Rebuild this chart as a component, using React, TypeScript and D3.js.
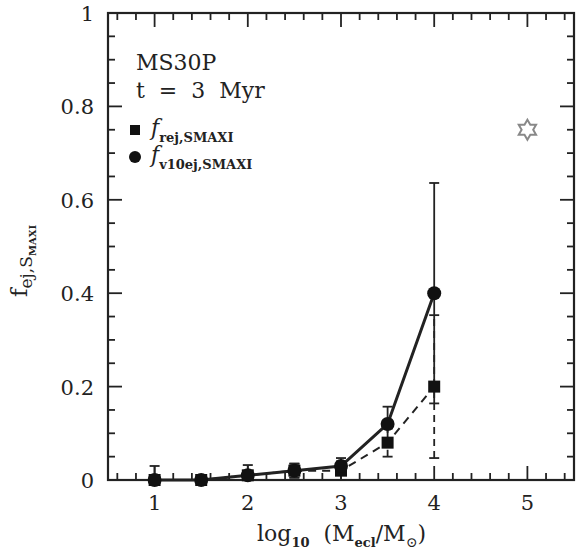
import React from "react";
import * as d3 from "d3";

const massLog = [1, 1.5, 2, 2.5, 3, 3.5, 4];
const fRej = [0, 0, 0.01, 0.02, 0.02, 0.08, 0.2];
const fRejErr = [0, 0, 0.01, 0.015, 0.02, 0.03, 0.153];
const fV10 = [0, 0, 0.01, 0.02, 0.03, 0.12, 0.4];
const fV10Err = [0.03, 0, 0.022, 0.015, 0.017, 0.037, 0.236];
const starPoint = { x: 5, y: 0.75 };
const xTickLabels = ["1", "2", "3", "4", "5"];
const yTickLabels = ["0", "0.2", "0.4", "0.6", "0.8", "1"];

const W = 576, H = 551;
const L = 108, R = 574, T = 13, B = 480;
const FONT = "'DejaVu Serif', serif";

export default function App() {
  const x = d3.scaleLinear().domain([0.5, 5.5]).range([L, R]);
  const y = d3.scaleLinear().domain([0, 1]).range([B, T]);

  const xMinor = d3.range(0.6, 5.5, 0.2).map((v) => +v.toFixed(2));
  const yMinor = d3.range(0.05, 1.0, 0.05).map((v) => +v.toFixed(2));
  const xMajor = xTickLabels.map(Number);
  const yMajor = yTickLabels.map(Number);
  const isXMajor = (v: number) => Math.abs(v - Math.round(v)) < 1e-6;
  const isYMajor = (v: number) => Math.abs(v * 5 - Math.round(v * 5)) < 1e-6;

  const line = d3
    .line<number>()
    .x((_, i) => x(massLog[i]))
    .y((d) => y(d));

  const star = () => {
    const pts: [number, number][] = [];
    const cx = x(starPoint.x), cy = y(starPoint.y);
    for (let k = 0; k < 12; k++) {
      const r = k % 2 === 0 ? 10 : 5.8;
      const a = -Math.PI / 2 + (k * Math.PI) / 6;
      pts.push([cx + r * Math.cos(a), cy + r * Math.sin(a)]);
    }
    return "M" + pts.map((p) => p.join(",")).join("L") + "Z";
  };

  const MAJ = 14, MIN = 7;

  return (
    <svg width={W} height={H} style={{ position: "absolute", left: 0, top: 0, background: "#fff" }} fontFamily={FONT}>
      {/* ticks */}
      <g stroke="#222" strokeWidth={1.8}>
        {xMinor.map((v) => {
          const len = isXMajor(v) ? MAJ : MIN;
          return (
            <g key={"xt" + v}>
              <line x1={x(v)} x2={x(v)} y1={B} y2={B - len} />
              <line x1={x(v)} x2={x(v)} y1={T} y2={T + len} />
            </g>
          );
        })}
        {yMinor.map((v) => {
          const len = isYMajor(v) ? MAJ : MIN;
          return (
            <g key={"yt" + v}>
              <line x1={L} x2={L + len} y1={y(v)} y2={y(v)} />
              <line x1={R} x2={R - len} y1={y(v)} y2={y(v)} />
            </g>
          );
        })}
      </g>
      <rect x={L} y={T} width={R - L} height={B - T} fill="none" stroke="#222" strokeWidth={2.2} />

      {/* tick labels */}
      <g fontSize={21} fill="#222">
        {xMajor.map((v, i) => (
          <text key={"xl" + v} x={x(v)} y={B + 30} textAnchor="middle">{xTickLabels[i]}</text>
        ))}
        {yMajor.map((v, i) => (
          <text key={"yl" + v} x={L - 14} y={y(v) + 8} textAnchor="end">{yTickLabels[i]}</text>
        ))}
      </g>

      {/* axis titles */}
      <text x={257} y={541} fontSize={22} fill="#222" style={{ whiteSpace: "pre" }}>
        log<tspan fontSize={13} fontWeight="bold" dy={6}>10</tspan>
        <tspan dy={-6}>{"  (M"}</tspan>
        <tspan fontSize={13} fontWeight="bold" dy={6}>ecl</tspan>
        <tspan dy={-6}>/M</tspan>
        <tspan fontSize={14} dy={6}>⊙</tspan>
        <tspan dy={-6}>)</tspan>
      </text>
      <text transform="translate(27,297) rotate(-90)" fontSize={23} fill="#222">
        f<tspan fontSize={17} dy={5}>ej,S</tspan>
        <tspan fontSize={10} fontWeight="bold" dy={4}>MAXI</tspan>
      </text>

      {/* annotation */}
      <text x={136} y={70} fontSize={22} fill="#222">MS30P</text>
      <text x={136} y={98} fontSize={22} fill="#222" style={{ whiteSpace: "pre" }}>t  =  3  Myr</text>

      {/* legend */}
      <rect x={130} y={125} width={10} height={10} fill="#111" />
      <text x={151} y={135} fontSize={22} fontStyle="italic" fill="#222">
        f<tspan fontSize={13} fontStyle="normal" fontWeight="bold" dy={7}>rej,SMAXI</tspan>
      </text>
      <circle cx={135} cy={157} r={6} fill="#111" />
      <text x={151} y={162} fontSize={22} fontStyle="italic" fill="#222">
        f<tspan fontSize={13} fontStyle="normal" fontWeight="bold" dy={7}>v10ej,SMAXI</tspan>
      </text>

      {/* error bars */}
      <g stroke="#222" strokeWidth={1.8}>
        {massLog.map((m, i) =>
          fRejErr[i] > 0 ? (
            <g key={"re" + i}>
              <line x1={x(m)} x2={x(m)} y1={y(fRej[i] - fRejErr[i])} y2={y(fRej[i] + fRejErr[i])} strokeDasharray="7,5" />
              <line x1={x(m) - 5} x2={x(m) + 5} y1={y(fRej[i] - fRejErr[i])} y2={y(fRej[i] - fRejErr[i])} />
              <line x1={x(m) - 5} x2={x(m) + 5} y1={y(fRej[i] + fRejErr[i])} y2={y(fRej[i] + fRejErr[i])} />
            </g>
          ) : null
        )}
        {massLog.map((m, i) =>
          fV10Err[i] > 0 ? (
            <g key={"ve" + i}>
              <line x1={x(m)} x2={x(m)} y1={y(Math.max(0, fV10[i] - fV10Err[i]))} y2={y(fV10[i] + fV10Err[i])} />
              <line x1={x(m) - 5} x2={x(m) + 5} y1={y(fV10[i] + fV10Err[i])} y2={y(fV10[i] + fV10Err[i])} />
              {fV10[i] - fV10Err[i] > 0 ? (
                <line x1={x(m) - 5} x2={x(m) + 5} y1={y(fV10[i] - fV10Err[i])} y2={y(fV10[i] - fV10Err[i])} />
              ) : null}
            </g>
          ) : null
        )}
      </g>

      {/* lines */}
      <path d={line(fRej) || ""} fill="none" stroke="#222" strokeWidth={2} strokeDasharray="8,6" />
      <path d={line(fV10) || ""} fill="none" stroke="#222" strokeWidth={3} />

      {/* markers */}
      {massLog.map((m, i) => (
        <rect key={"sq" + i} x={x(m) - 6} y={y(fRej[i]) - 6} width={12} height={12} fill="#111" />
      ))}
      {massLog.map((m, i) => (
        <circle key={"ci" + i} cx={x(m)} cy={y(fV10[i])} r={7} fill="#111" />
      ))}

      {/* star */}
      <path d={star()} fill="none" stroke="#888" strokeWidth={2} />
    </svg>
  );
}
